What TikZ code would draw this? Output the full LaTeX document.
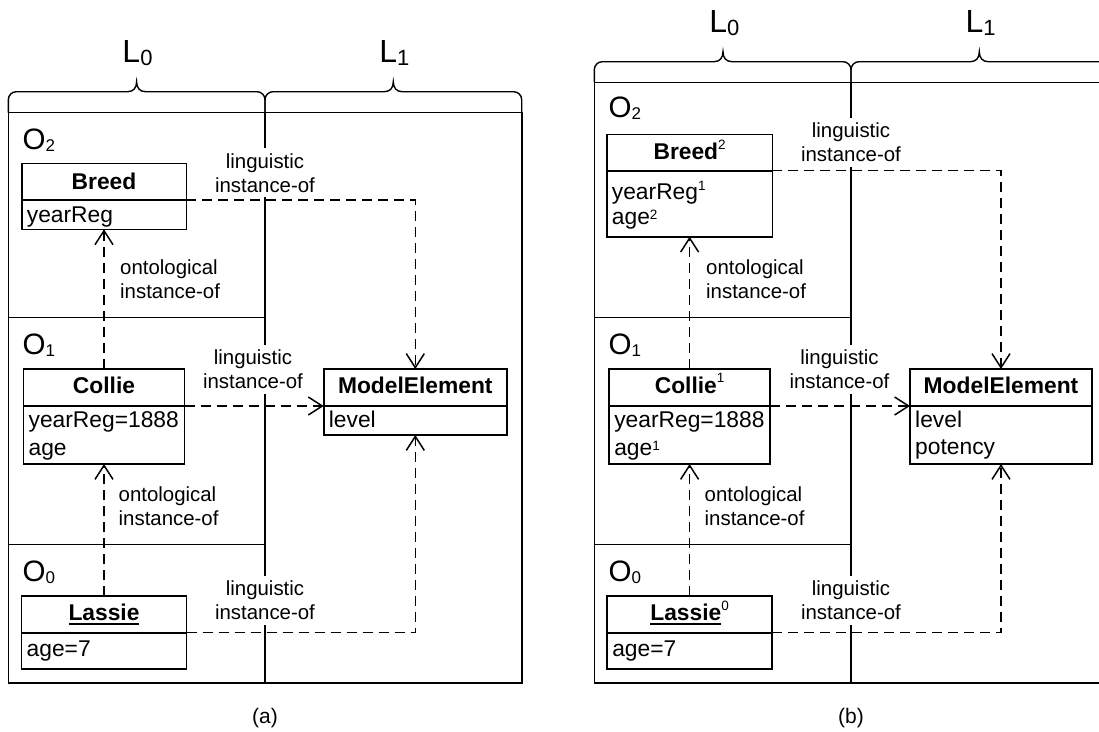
\documentclass[tikz,border=0pt]{standalone}
\usepackage{fontspec}
\setmainfont{Liberation Sans}
\usetikzlibrary{arrows.meta}

% type sizes (1pt = 1px of the final picture)
\newcommand\ttlfont{\fontsize{22.8}{27}\selectfont\bfseries}
\newcommand\attfont{\fontsize{22.8}{27}\selectfont}
\newcommand\lblfont{\fontsize{20.4}{24}\selectfont}
\newcommand\onfont{\fontsize{29.5}{32}\selectfont}
\newcommand\lnfont{\fontsize{32}{36}\selectfont}
\newcommand\capfont{\fontsize{21}{24}\selectfont}
% potency superscript: #1 = raise, #2 = digit
\newcommand\potsup[2]{\raisebox{#1pt}{\fontsize{13.5}{14}\selectfont\mdseries #2}}
% level index: #1 = drop, #2 = size, #3 = digit
\newcommand\lowidx[3]{\raisebox{-#1pt}{\fontsize{#2}{#2}\selectfont #3}}
% thick underline for object names
\newcommand\ulname[1]{\setbox0\hbox{#1}\rlap{\rule[-4.5pt]{\wd0}{1.9pt}}\box0}
% curly brace over a level column: xl, xtip, xr, y of the bar, y of the ends
\newcommand\lvlbrace[5]{%
  \draw[brc] (#1,#5) -- (#1,#4+8) .. controls (#1,#4+3.6) and (#1+3.6,#4) .. (#1+8,#4)
    -- (#2-9,#4) .. controls (#2-3,#4) and (#2,#4-4) .. (#2,#4-10)
    .. controls (#2,#4-4) and (#2+3,#4) .. (#2+9,#4)
    -- (#3-8,#4) .. controls (#3-3.6,#4) and (#3,#4+3.6) .. (#3,#4+8) -- (#3,#5);}

\tikzset{
  cls/.style={draw, line width=1.6pt, inner sep=0pt, outer sep=0pt, anchor=north},
  ttl/.style={font=\ttlfont, anchor=base, inner sep=0pt},
  att/.style={font=\attfont, anchor=base west, inner sep=0pt},
  lnk/.style={font=\lblfont, align=center, fill=white, inner xsep=3pt, inner ysep=5pt},
  ont/.style={font=\lblfont, align=left, anchor=west, inner sep=0pt},
  panel/.style={line width=1.6pt},
  brc/.style={line width=1.4pt},
  lvl/.style={font=\lnfont, anchor=base, inner sep=0pt},
  olvl/.style={font=\onfont, anchor=base west, inner sep=0pt},
  inst/.style={line width=1.5pt, dash pattern=on 10pt off 6pt,
    -{Straight Barb[length=14pt,width=18pt,line width=1.5pt]}},
}

\begin{document}
\begin{tikzpicture}[x=1pt, y=-1pt]
\clip (0,0) rectangle (1099,731);

% ---------------- panel (a) ----------------
\draw[panel] (8.3,112.5) rectangle (521.7,683);
\draw[panel] (265,112.5) -- (265,683);
\draw[panel] (8.3,317.5) -- (265,317.5);
\draw[panel] (8.3,544.3) -- (265,544.3);
\lvlbrace{8.3}{136.6}{265}{91.7}{112.5}
\lvlbrace{265}{393.3}{521.7}{91.7}{112.5}
\node[lvl] (l0a) at (137.5,62.7) {L\lowidx{2.3}{22}{0}};
\node[lvl] (l1a) at (394.3,62.7) {L\lowidx{2.3}{22}{1}};
\node[olvl] (o2a) at (22.5,149.3) {O\lowidx{2.4}{17}{2}};
\node[olvl] (o1a) at (22.5,354.5) {O\lowidx{2.4}{17}{1}};
\node[olvl] (o0a) at (22.5,581) {O\lowidx{2.4}{17}{0}};

\node[cls, minimum width=164.6pt, minimum height=36.5pt] (breedAt) at (104,163.5) {};
\node[cls, minimum width=164.6pt, minimum height=29.3pt] (breedAa) at (breedAt.south) {};
\node[ttl] (breedAn) at (104,189) {Breed};
\node[att] (breedA1) at (26.7,222) {yearReg};

\node[cls, minimum width=161.2pt, minimum height=37pt] (collieAt) at (104,369) {};
\node[cls, minimum width=161.2pt, minimum height=58pt] (collieAa) at (collieAt.south) {};
\node[ttl] (collieAn) at (104,393.3) {Collie};
\node[att] (collieA1) at (28.4,427) {yearReg=1888};
\node[att] (collieA2) at (28.4,455) {age};

\node[cls, minimum width=165pt, minimum height=36.7pt] (lassieAt) at (104,596) {};
\node[cls, minimum width=165pt, minimum height=36.3pt] (lassieAa) at (lassieAt.south) {};
\node[ttl] (lassieAn) at (104,620) {\ulname{Lassie}};
\node[att] (lassieA1) at (26.5,656.7) {age=7};

\node[cls, minimum width=183.2pt, minimum height=37pt] (meAt) at (415.3,369) {};
\node[cls, minimum width=183.2pt, minimum height=29pt] (meAa) at (meAt.south) {};
\node[ttl] (meAn) at (415.3,393.3) {ModelElement};
\node[att] (meA1) at (328.7,427) {level};

\node[lnk] (lk1a) at (265,172.8) {linguistic\\instance-of};
\node[lnk] (lk2a) at (253,369.5) {linguistic\\instance-of};
\node[lnk] (lk3a) at (265,600.5) {linguistic\\instance-of};
\node[ont] (on1a) at (120,279.3) {ontological\\instance-of};
\node[ont] (on2a) at (118.5,506) {ontological\\instance-of};

\draw[inst] (breedAt.south east) -| (meAt.north);
\draw[inst] (collieAt.south east) -- (meAt.south west);
\draw[inst] (lassieAt.south east) -| (meAa.south);
\draw[inst] (collieAt.north) -- (breedAa.south);
\draw[inst] (lassieAt.north) -- (collieAa.south);

\node[font=\capfont, anchor=base] (capa) at (265,723.5) {(a)};

% ---------------- panel (b) ----------------
\draw[panel] (594.3,82.3) rectangle (1107.7,683);
\draw[panel] (851,82.3) -- (851,683);
\draw[panel] (594.3,317.5) -- (851,317.5);
\draw[panel] (594.3,544.3) -- (851,544.3);
\lvlbrace{594.3}{723}{851}{61.7}{82.3}
\lvlbrace{851}{979.3}{1107.7}{61.7}{82.3}
\node[lvl] (l0b) at (724.3,32.7) {L\lowidx{2.3}{22}{0}};
\node[lvl] (l1b) at (980.6,32.7) {L\lowidx{2.3}{22}{1}};
\node[olvl] (o2b) at (608.5,117.3) {O\lowidx{2.4}{17}{2}};
\node[olvl] (o1b) at (608.5,354.5) {O\lowidx{2.4}{17}{1}};
\node[olvl] (o0b) at (608.5,581) {O\lowidx{2.4}{17}{0}};

\node[cls, minimum width=165.6pt, minimum height=36.4pt] (breedBt) at (689.6,134.3) {};
\node[cls, minimum width=165.6pt, minimum height=66pt] (breedBa) at (breedBt.south) {};
\node[ttl] (breedBn) at (689.6,159.3) {Breed\potsup{9.5}{2}};
\node[att] (breedB1) at (611.7,199) {yearReg\potsup{9}{1}};
\node[att] (breedB2) at (611.7,224) {age\potsup{5}{2}};

\node[cls, minimum width=161pt, minimum height=37pt] (collieBt) at (689.6,369) {};
\node[cls, minimum width=161pt, minimum height=58pt] (collieBa) at (collieBt.south) {};
\node[ttl] (collieBn) at (689.6,393.3) {Collie\potsup{10.5}{1}};
\node[att] (collieB1) at (614.1,427) {yearReg=1888};
\node[att] (collieB2) at (614.1,455) {age\potsup{5}{1}};

\node[cls, minimum width=165pt, minimum height=36.7pt] (lassieBt) at (689.6,596) {};
\node[cls, minimum width=165pt, minimum height=36.3pt] (lassieBa) at (lassieBt.south) {};
\node[ttl] (lassieBn) at (689.6,620) {\ulname{Lassie}\potsup{9.5}{0}};
\node[att] (lassieB1) at (612.1,656.7) {age=7};

\node[cls, minimum width=182pt, minimum height=37pt] (meBt) at (1001,369) {};
\node[cls, minimum width=182pt, minimum height=58pt] (meBa) at (meBt.south) {};
\node[ttl] (meBn) at (1001,393.3) {ModelElement};
\node[att] (meB1) at (915,427.7) {level};
\node[att] (meB2) at (915,454.3) {potency};

\node[lnk] (lk1b) at (851,142.2) {linguistic\\instance-of};
\node[lnk] (lk2b) at (839.5,369.5) {linguistic\\instance-of};
\node[lnk] (lk3b) at (851,600.5) {linguistic\\instance-of};
\node[ont] (on1b) at (706,279.5) {ontological\\instance-of};
\node[ont] (on2b) at (704.5,506) {ontological\\instance-of};

\draw[inst] (breedBt.south east) -| (meBt.north);
\draw[inst] (collieBt.south east) -- (meBt.south west);
\draw[inst] (lassieBt.south east) -| (meBa.south);
\draw[inst] (collieBt.north) -- (breedBa.south);
\draw[inst] (lassieBt.north) -- (collieBa.south);

\node[font=\capfont, anchor=base] (capb) at (851,723.5) {(b)};
\end{tikzpicture}
\end{document}
